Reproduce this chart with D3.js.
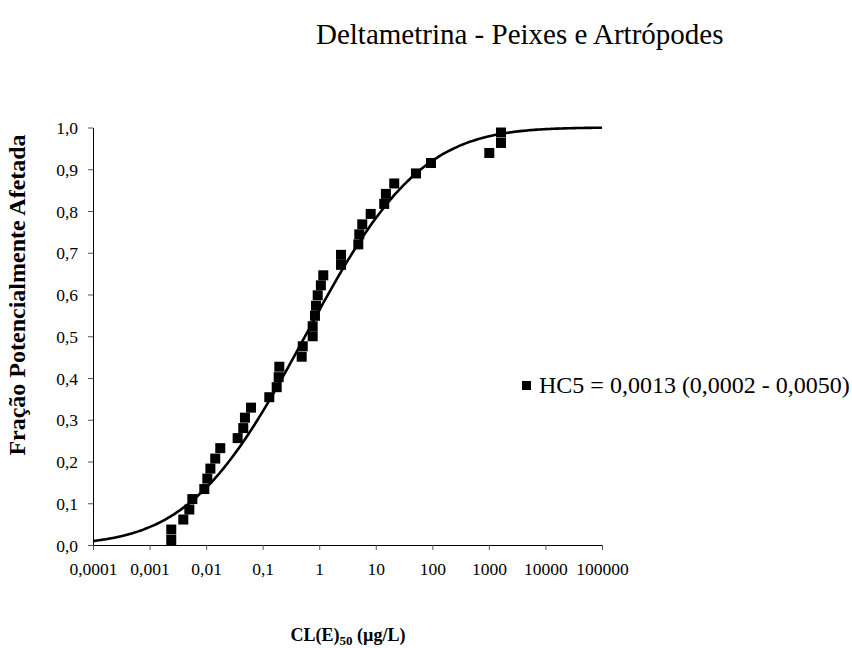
<!DOCTYPE html>
<html>
<head>
<meta charset="utf-8">
<script src="https://cdn.jsdelivr.net/npm/d3@7"></script>
<style>
  html, body { margin: 0; padding: 0; background: #fff; }
  svg { display: block; }
  text { font-family: "Liberation Serif", "Times New Roman", serif; fill: #000; }
</style>
</head>
<body>
<svg id="chart" width="852" height="648"></svg>
<script>
// ---- data ----
const concentrations = [0.00242, 0.00242, 0.00395, 0.00505, 0.00571, 0.00929, 0.0105, 0.0119, 0.0145, 0.0178,
  0.0361, 0.0454, 0.0486, 0.0622, 0.131, 0.177, 0.192, 0.197, 0.490, 0.511,
  0.766, 0.766, 0.841, 0.877, 0.940, 1.07, 1.18, 2.43, 2.43, 4.91,
  5.11, 5.77, 8.13, 14.1, 15.1, 21.2, 51.4, 94.6, 1016, 1637, 1637];
const fractions = [0.012, 0.037, 0.061, 0.085, 0.110, 0.134, 0.159, 0.183, 0.207, 0.232,
  0.256, 0.280, 0.305, 0.329, 0.354, 0.378, 0.402, 0.427, 0.451, 0.476,
  0.500, 0.524, 0.549, 0.573, 0.598, 0.622, 0.646, 0.671, 0.695, 0.720,
  0.744, 0.768, 0.793, 0.817, 0.841, 0.866, 0.890, 0.915, 0.939, 0.963, 0.988];
// fitted log-normal (log10 scale) giving HC5 = 0,0013
const fitMeanLog10 = -0.25;
const fitSdLog10 = 1.60;
const xTickValues = [1e-4, 1e-3, 1e-2, 1e-1, 1, 10, 100, 1000, 10000, 100000];
const xTickLabels = ["0,0001", "0,001", "0,01", "0,1", "1", "10", "100", "1000", "10000", "100000"];
const yTickValues = [0, 0.1, 0.2, 0.3, 0.4, 0.5, 0.6, 0.7, 0.8, 0.9, 1.0];
const yTickLabels = ["0,0", "0,1", "0,2", "0,3", "0,4", "0,5", "0,6", "0,7", "0,8", "0,9", "1,0"];
const titleText = "Deltametrina - Peixes e Artrópodes";
const legendText = "HC5 = 0,0013 (0,0002 - 0,0050)";
const yTitle = "Fração Potencialmente Afetada";

// ---- chart ----
const svg = d3.select("#chart");
const x = d3.scaleLog().domain([1e-4, 1e5]).range([93, 602]);
const y = d3.scaleLinear().domain([0, 1]).range([545, 127.5]);

function erf(v) {
  const s = v < 0 ? -1 : 1; v = Math.abs(v);
  const t = 1 / (1 + 0.3275911 * v);
  const p = t * (0.254829592 + t * (-0.284496736 + t * (1.421413741 + t * (-1.453152027 + t * 1.061405429))));
  return s * (1 - p * Math.exp(-v * v));
}
function normCdf(z) { return 0.5 * (1 + erf(z / Math.SQRT2)); }

// axes
const yAxis = d3.axisLeft(y).tickValues(yTickValues).tickFormat((d, i) => yTickLabels[i]).tickSize(5).tickSizeOuter(0);
const xAxis = d3.axisBottom(x).tickValues(xTickValues).tickFormat((d, i) => xTickLabels[i]).tickSize(5).tickSizeOuter(0);

const gy = svg.append("g").attr("transform", "translate(93,0)").call(yAxis);
const gx = svg.append("g").attr("transform", "translate(0,545)").call(xAxis);
[gx, gy].forEach(g => {
  g.select(".domain").attr("stroke", "#000").attr("stroke-width", 1);
  g.selectAll(".tick line").attr("stroke", "#555").attr("stroke-width", 1);
  g.selectAll(".tick text").style("font-family", "'Liberation Serif', 'Times New Roman', serif").style("font-size", "17.5px").attr("fill", "#000");
});
gy.selectAll(".tick text").attr("x", -15).attr("dy", "0.35em");
gx.selectAll(".tick text").attr("y", 18).attr("dy", "0.71em");

// fitted curve
const curvePts = d3.range(-4, 5.0001, 0.05).map(L => [Math.pow(10, L), normCdf((L - fitMeanLog10) / fitSdLog10)]);
svg.append("path")
  .datum(curvePts)
  .attr("fill", "none")
  .attr("stroke", "#000")
  .attr("stroke-width", 2.6)
  .attr("d", d3.line().x(d => x(d[0])).y(d => y(d[1])).curve(d3.curveMonotoneX));

// points
const sz = 10;
svg.append("g").selectAll("rect")
  .data(concentrations.map((c, i) => [c, fractions[i]]))
  .join("rect")
  .attr("x", d => x(d[0]) - sz / 2)
  .attr("y", d => y(d[1]) - sz / 2)
  .attr("width", sz).attr("height", sz)
  .attr("fill", "#000");

// title
svg.append("text").attr("x", 316).attr("y", 44)
  .style("font-size", "29px").text(titleText);

// legend
svg.append("rect").attr("x", 522).attr("y", 381).attr("width", 9).attr("height", 9).attr("fill", "#000");
svg.append("text").attr("x", 539).attr("y", 393)
  .style("font-size", "24px").text(legendText);

// y title
svg.append("text")
  .attr("transform", "translate(25,295) rotate(-90)")
  .attr("text-anchor", "middle")
  .style("font-size", "24px").style("font-weight", "bold")
  .text(yTitle);

// x title with subscript
const xt = svg.append("text").attr("x", 348).attr("y", 641).attr("text-anchor", "middle")
  .style("font-size", "18px").style("font-weight", "bold");
xt.append("tspan").text("CL(E)");
xt.append("tspan").attr("dy", 4).style("font-size", "13px").text("50");
xt.append("tspan").attr("dy", -4).text(" (µg/L)");
</script>
</body>
</html>
